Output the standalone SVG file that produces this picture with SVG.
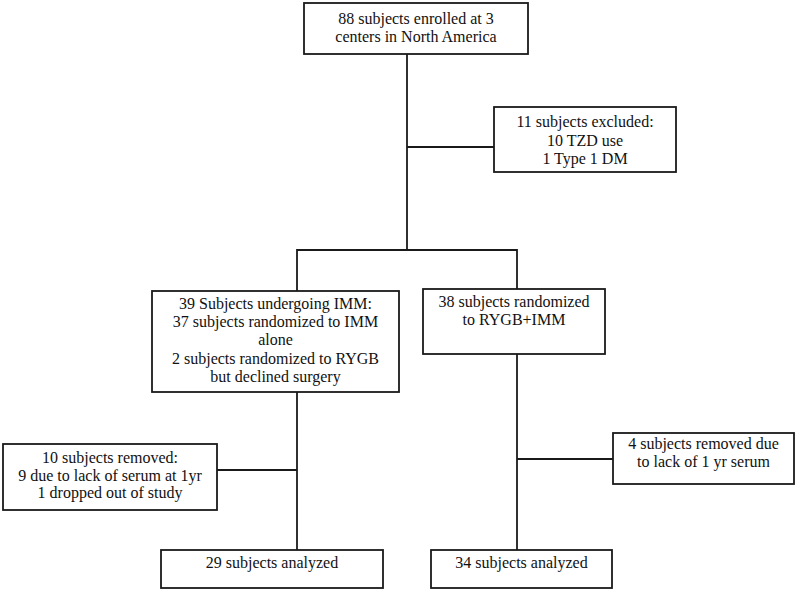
<svg xmlns="http://www.w3.org/2000/svg" width="800" height="590" viewBox="0 0 800 590">
<style>
.box{fill:#fff;stroke:#1a1a1a;stroke-width:1.8}
.ln{fill:none;stroke:#1a1a1a;stroke-width:1.8}
text{font-family:"Liberation Serif","Times New Roman",serif;font-size:16px;fill:#111;text-anchor:middle}
</style>
<rect width="800" height="590" fill="#fff"/>
<g id="connectors">
<line class="ln" x1="407" y1="54" x2="407" y2="250"/>
<line class="ln" x1="407" y1="147" x2="494" y2="147"/>
<polyline class="ln" points="297,291 297,250 517,250 517,289"/>
<line class="ln" x1="297" y1="392" x2="297" y2="550"/>
<line class="ln" x1="217" y1="470" x2="297" y2="470"/>
<line class="ln" x1="517" y1="354" x2="517" y2="550"/>
<line class="ln" x1="517" y1="459" x2="613" y2="459"/>
</g>
<g id="enrolled">
<rect class="box" x="304" y="3" width="224" height="51"/>
<text x="416" y="24">88 subjects enrolled at 3</text>
<text x="416" y="42">centers in North America</text>
</g>
<g id="excluded">
<rect class="box" x="494" y="107" width="182" height="65"/>
<text x="585" y="127">11 subjects excluded:</text>
<text x="585" y="145.5">10 TZD use</text>
<text x="585" y="164">1 Type 1 DM</text>
</g>
<g id="imm">
<rect class="box" x="152" y="291" width="247" height="101"/>
<text x="275.5" y="309">39 Subjects undergoing IMM:</text>
<text x="275.5" y="327">37 subjects randomized to IMM</text>
<text x="275.5" y="345">alone</text>
<text x="275.5" y="363.5">2 subjects randomized to RYGB</text>
<text x="275.5" y="382">but declined surgery</text>
</g>
<g id="rygb">
<rect class="box" x="423" y="289" width="182" height="65"/>
<text x="514" y="307">38 subjects randomized</text>
<text x="514" y="325">to RYGB+IMM</text>
</g>
<g id="removed-imm">
<rect class="box" x="3" y="444" width="214" height="66"/>
<text x="110" y="463">10 subjects removed:</text>
<text x="110" y="480.5">9 due to lack of serum at 1yr</text>
<text x="110" y="498">1 dropped out of study</text>
</g>
<g id="removed-rygb">
<rect class="box" x="613" y="433" width="181" height="51"/>
<text x="703.5" y="449">4 subjects removed due</text>
<text x="703.5" y="467">to lack of 1 yr serum</text>
</g>
<g id="analyzed-imm">
<rect class="box" x="161" y="550" width="222" height="38"/>
<text x="272" y="568">29 subjects analyzed</text>
</g>
<g id="analyzed-rygb">
<rect class="box" x="431" y="550" width="181" height="38"/>
<text x="521.5" y="568">34 subjects analyzed</text>
</g>
</svg>
